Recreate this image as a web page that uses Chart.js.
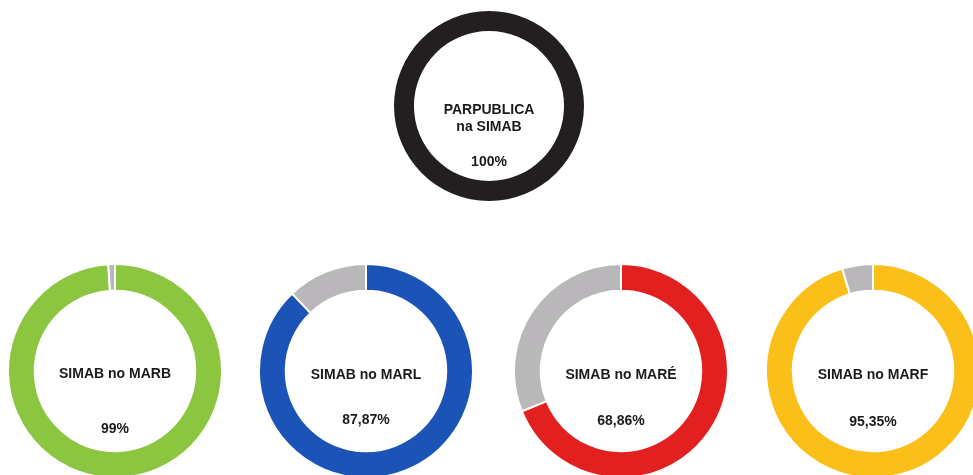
<!DOCTYPE html>
<html>
<head>
<meta charset="utf-8">
<script src="https://cdn.jsdelivr.net/npm/chart.js@4/dist/chart.umd.min.js"></script>
<style>
  html, body { margin: 0; padding: 0; background: #fff; overflow: hidden; }
  #wrap { position: relative; width: 973px; height: 475px; overflow: hidden; }
  #wrap canvas { position: absolute; }
</style>
</head>
<body>
<div id="wrap"></div>
<script>
// participações (percentagem do capital)
const titles = [
  ["PARPUBLICA", "na SIMAB"],
  ["SIMAB no MARB"],
  ["SIMAB no MARL"],
  ["SIMAB no MARÉ"],
  ["SIMAB no MARF"],
];
const shares = [100, 99, 87.87, 68.86, 95.35];
const shareLabels = ["100%", "99%", "87,87%", "68,86%", "95,35%"];
const ringColors = ["#231f20", "#8cc53f", "#1b53b6", "#e2201f", "#fbbf1a"];
const restColor = "#b9b7b9";

// posição de cada anel no quadro
const layout = [
  { cx: 489, cy: 106, size: 190, cutout: "79%", border: 0, lines: [4, 21, 56] },
  { cx: 115, cy: 371, size: 216, cutout: "75%", border: 2, lines: [3, 58] },
  { cx: 366, cy: 371, size: 216, cutout: "75%", border: 2, lines: [4, 49] },
  { cx: 621, cy: 371, size: 216, cutout: "75%", border: 2, lines: [4, 50] },
  { cx: 873, cy: 371, size: 216, cutout: "75%", border: 2, lines: [4, 51] },
];

// texto no centro do anel
const centerText = {
  id: "centerText",
  afterDraw(chart, args, opts) {
    const { ctx } = chart;
    const meta = chart.getDatasetMeta(0);
    const arc = meta.data[0];
    if (!arc) return;
    ctx.save();
    ctx.font = "bold 14px 'Liberation Sans', Arial, sans-serif";
    ctx.fillStyle = "#1b1b1b";
    ctx.textAlign = "center";
    ctx.textBaseline = "middle";
    opts.texts.forEach((t, i) => {
      ctx.fillText(t, arc.x, arc.y + opts.offsets[i]);
    });
    ctx.restore();
  },
};

const wrap = document.getElementById("wrap");

shares.forEach((share, i) => {
  const l = layout[i];
  const canvas = document.createElement("canvas");
  canvas.width = l.size;
  canvas.height = l.size;
  canvas.style.width = l.size + "px";
  canvas.style.height = l.size + "px";
  canvas.style.left = l.cx - l.size / 2 + "px";
  canvas.style.top = l.cy - l.size / 2 + "px";
  wrap.appendChild(canvas);

  new Chart(canvas.getContext("2d"), {
    type: "doughnut",
    data: {
      labels: [titles[i].join(" "), "Outros"],
      datasets: [
        {
          data: [share, +(100 - share).toFixed(2)],
          backgroundColor: [ringColors[i], restColor],
          borderColor: "#ffffff",
          borderWidth: l.border,
          hoverOffset: 0,
        },
      ],
    },
    options: {
      responsive: false,
      animation: false,
      cutout: l.cutout,
      layout: { padding: 0 },
      plugins: {
        legend: { display: false },
        tooltip: { enabled: false },
        centerText: {
          texts: [...titles[i], shareLabels[i]],
          offsets: l.lines,
        },
      },
    },
    plugins: [centerText],
  });
});
</script>
</body>
</html>
